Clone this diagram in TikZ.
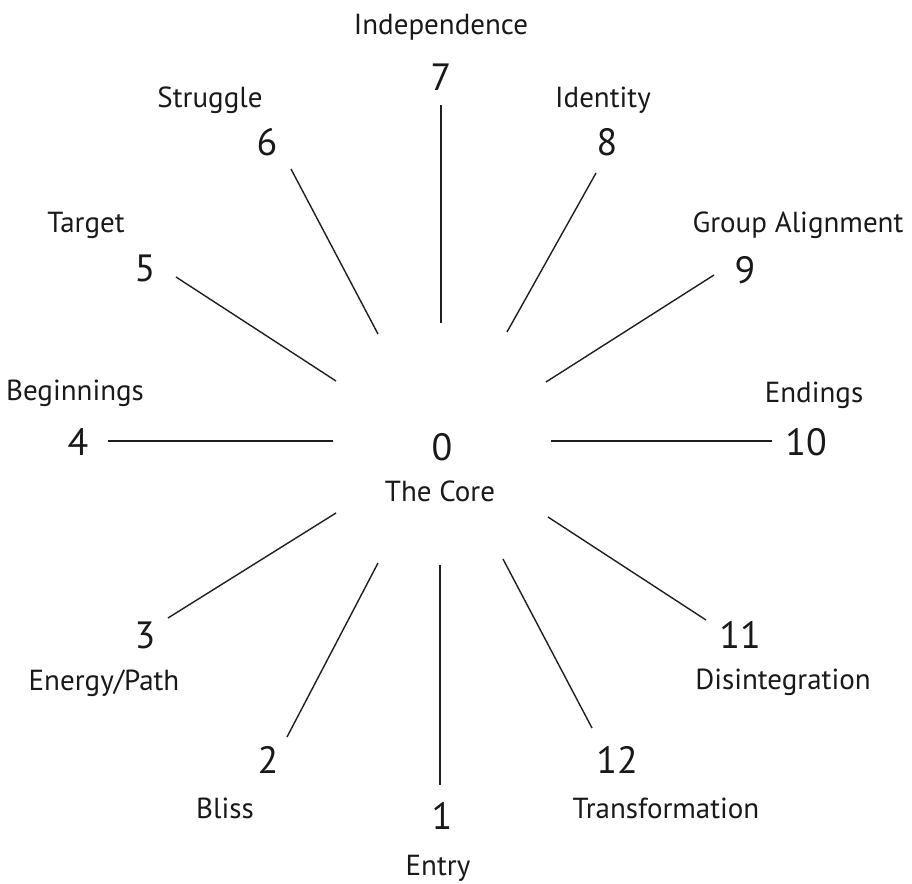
\documentclass[tikz,border=0pt]{standalone}
\usepackage{fontspec}
\setmainfont{PT Sans}
\begin{document}
\begin{tikzpicture}[x=1pt,y=-1pt,
  ray/.style={draw=black!88, line width=1.4pt},
  num/.style={inner sep=0pt, anchor=center, text=black!90, font=\fontsize{38}{40}\selectfont},
  lab/.style={inner sep=0pt, anchor=base, text=black!90, font=\fontsize{29}{32}\selectfont}]
\useasboundingbox (0,0) rectangle (912,883);
% centre
\node[num] (n0) at (442,447) {0};
\node[lab] (t0) at (440,501) {The Core};
% numbers
\node[num] (n1) at (442,816) {1};
\node[num] (n2) at (268,760) {2};
\node[num] (n3) at (145,635) {3};
\node[num] (n4) at (78,442) {4};
\node[num] (n5) at (145,268) {5};
\node[num] (n6) at (267,142) {6};
\node[num] (n7) at (441,77) {7};
\node[num] (n8) at (607,142) {8};
\node[num] (n9) at (745,270) {9};
\node[num] (n10) at (806,442) {10};
\node[num] (n11) at (740,635) {11};
\node[num] (n12) at (617,760) {12};
% labels
\node[lab] (t1) at (438,875) {Entry};
\node[lab] (t2) at (225,818) {Bliss};
\node[lab] (t3) at (104,690) {Energy/Path};
\node[lab] (t4) at (75,400) {Beginnings};
\node[lab] (t5) at (86,232) {Target};
\node[lab] (t6) at (210,107) {Struggle};
\node[lab] (t7) at (441,35) {Independence};
\node[lab] (t8) at (603,107) {Identity};
\node[lab] (t9) at (798,232) {Group Alignment};
\node[lab] (t10) at (814,402) {Endings};
\node[lab] (t11) at (783,689) {Disintegration};
\node[lab] (t12) at (666,818) {Transformation};
% ray end points
\coordinate (i1) at (440,565);  \coordinate (o1) at (440,785);
\coordinate (i2) at (378,563);  \coordinate (o2) at (287,737);
\coordinate (i3) at (336,513);  \coordinate (o3) at (168,618);
\coordinate (i4) at (333,441);  \coordinate (o4) at (108,441);
\coordinate (i5) at (336,381);  \coordinate (o5) at (176,277);
\coordinate (i6) at (378,334);  \coordinate (o6) at (291,169);
\coordinate (i7) at (441,323);  \coordinate (o7) at (441,105);
\coordinate (i8) at (507,332);  \coordinate (o8) at (596,173);
\coordinate (i9) at (546,382);  \coordinate (o9) at (714,275);
\coordinate (i10) at (551,441); \coordinate (o10) at (772,441);
\coordinate (i11) at (548,517); \coordinate (o11) at (706,620);
\coordinate (i12) at (503,559); \coordinate (o12) at (592,728);
\foreach \k in {1,...,12}{\draw[ray] (i\k) -- (o\k);}
\end{tikzpicture}
\end{document}
